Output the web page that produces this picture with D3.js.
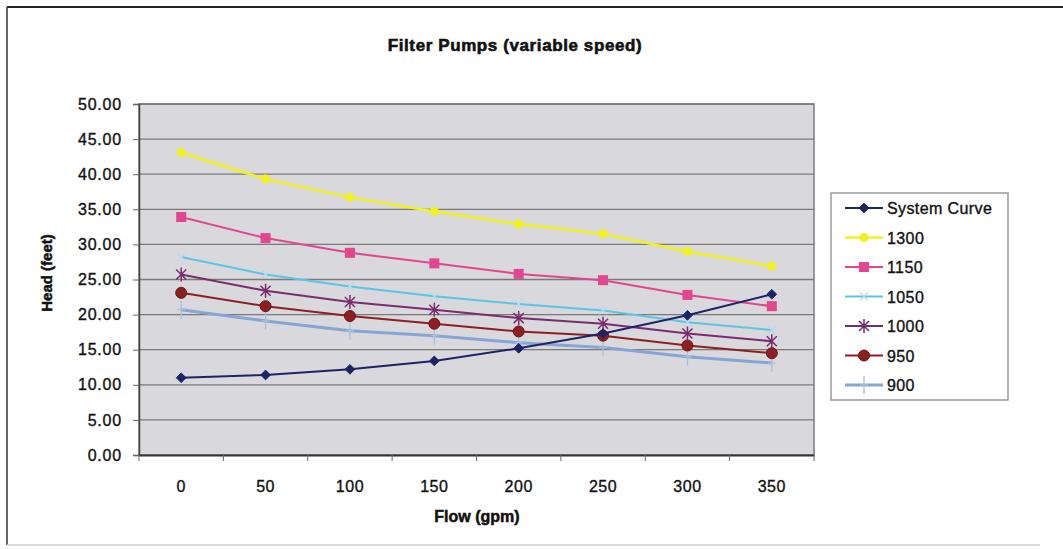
<!DOCTYPE html>
<html>
<head>
<meta charset="utf-8">
<script src="https://cdn.jsdelivr.net/npm/d3@7"></script>
<style>
  body { margin: 0; background: #fff; }
  text { font-family: "Liberation Sans", Arial, sans-serif; fill: #111; }
</style>
</head>
<body>
<div id="svg-area"></div>
<script>
var svgWidth = 1063;
var svgHeight = 549;

// chart data
var flows = [0, 50, 100, 150, 200, 250, 300, 350];
var yTicks = [0, 5, 10, 15, 20, 25, 30, 35, 40, 45, 50];
var seriesNames = ["System Curve", "1300", "1150", "1050", "1000", "950", "900"];
var systemCurve = [11.0, 11.4, 12.2, 13.4, 15.2, 17.3, 19.9, 22.9];
var rpm1300 = [43.1, 39.3, 36.7, 34.7, 32.9, 31.5, 29.0, 26.9];
var rpm1150 = [33.9, 30.9, 28.8, 27.3, 25.8, 24.9, 22.8, 21.2];
var rpm1050 = [28.2, 25.7, 24.0, 22.6, 21.5, 20.6, 18.9, 17.8];
var rpm1000 = [25.7, 23.4, 21.8, 20.7, 19.5, 18.7, 17.3, 16.2];
var rpm950 = [23.1, 21.2, 19.8, 18.7, 17.6, 17.0, 15.6, 14.5];
var rpm900 = [20.7, 19.1, 17.7, 17.0, 16.0, 15.3, 14.0, 13.1];

var seriesValues = [systemCurve, rpm1300, rpm1150, rpm1050, rpm1000, rpm950, rpm900];
var seriesColors = ["#1c2466", "#f2f21c", "#e2468e", "#5fc3e4", "#7a2c6c", "#8c1f22", "#86a4d4"];
var seriesMarkers = ["diamond", "dot", "square", "cross", "star", "circle", "plus"];
var seriesWidths = [2, 2.5, 2, 2, 2, 2, 3];

// plot area
var margin = { top: 104, left: 139, right: 1063 - 814, bottom: 549 - 455 };
var chartWidth = svgWidth - margin.left - margin.right;
var chartHeight = svgHeight - margin.top - margin.bottom;

var svg = d3.select("#svg-area").append("svg")
  .attr("width", svgWidth)
  .attr("height", svgHeight);

// outer chart frame (scan is cut on the right)
svg.append("line").attr("x1", 7).attr("y1", 7).attr("x2", svgWidth).attr("y2", 7)
  .attr("stroke", "#222").attr("stroke-width", 2);
svg.append("line").attr("x1", 7).attr("y1", 7).attr("x2", 7).attr("y2", 545)
  .attr("stroke", "#333").attr("stroke-width", 1.5);
svg.append("line").attr("x1", 7).attr("y1", 545).attr("x2", 1040).attr("y2", 545)
  .attr("stroke", "#cfcfcf").attr("stroke-width", 1.5);

var chartGroup = svg.append("g")
  .attr("transform", `translate(${margin.left}, ${margin.top})`);

var xScale = d3.scaleBand()
  .domain(flows)
  .range([0, chartWidth]);

var yScale = d3.scaleLinear()
  .domain([0, 50])
  .range([chartHeight, 0]);

// plot background
chartGroup.append("rect")
  .attr("width", chartWidth)
  .attr("height", chartHeight)
  .attr("fill", "#d8d8dd")
  .attr("stroke", "#7c7c7c")
  .attr("stroke-width", 1.5);

// gridlines
chartGroup.selectAll(".grid")
  .data(yTicks.slice(1))
  .enter()
  .append("line")
  .attr("class", "grid")
  .attr("x1", 0)
  .attr("x2", chartWidth)
  .attr("y1", function(d) { return yScale(d); })
  .attr("y2", function(d) { return yScale(d); })
  .attr("stroke", "#7a7a7a")
  .attr("stroke-width", 1.3);

// axes
var yAxis = d3.axisLeft(yScale)
  .tickValues(yTicks)
  .tickFormat(d3.format(".2f"))
  .tickSize(6)
  .tickPadding(11);

var yAxisG = chartGroup.append("g").call(yAxis);
yAxisG.select(".domain").attr("stroke", "#444").attr("stroke-width", 1.5);
yAxisG.selectAll(".tick line").attr("stroke", "#666");
yAxisG.selectAll("text")
  .style("font-size", "16px")
  .style("letter-spacing", "0.8px")
  .attr("fill", "#111")
  .attr("stroke", "#111")
  .attr("stroke-width", 0.35);

var xAxis = d3.axisBottom(xScale).tickSize(0).tickPadding(26);
var xAxisG = chartGroup.append("g")
  .attr("transform", `translate(0, ${chartHeight})`)
  .call(xAxis);
xAxisG.select(".domain").attr("stroke", "#333").attr("stroke-width", 2);
xAxisG.selectAll("text")
  .style("font-size", "16px")
  .style("letter-spacing", "0.5px")
  .attr("fill", "#111")
  .attr("stroke", "#111")
  .attr("stroke-width", 0.35);

// tick marks between categories
chartGroup.selectAll(".xtick")
  .data(d3.range(flows.length + 1))
  .enter()
  .append("line")
  .attr("class", "xtick")
  .attr("x1", function(i) { return i * xScale.bandwidth(); })
  .attr("x2", function(i) { return i * xScale.bandwidth(); })
  .attr("y1", chartHeight)
  .attr("y2", chartHeight + 6)
  .attr("stroke", "#666");

// markers
function drawMarker(g, type, color) {
  if (type == "diamond") {
    g.append("path").attr("d", d3.symbol(d3.symbolDiamond2, 60)())
      .attr("fill", color).attr("stroke", color);
  } else if (type == "dot") {
    g.append("circle").attr("r", 4.5).attr("fill", color);
  } else if (type == "square") {
    g.append("rect").attr("x", -5).attr("y", -5).attr("width", 10).attr("height", 10)
      .attr("fill", color);
  } else if (type == "circle") {
    g.append("circle").attr("r", 5.5).attr("fill", color).attr("stroke", "#6e1515");
  } else if (type == "cross") {
    g.append("path").attr("d", "M-4,-4L4,4M-4,4L4,-4")
      .attr("stroke", "#b8dcea").attr("stroke-width", 1.3);
  } else if (type == "star") {
    g.append("path").attr("d", "M-5,-5L5,5M-5,5L5,-5M0,-7L0,7")
      .attr("stroke", color).attr("stroke-width", 1.5);
  } else if (type == "plus") {
    g.append("path").attr("d", "M0,-9L0,9M-4,0L4,0")
      .attr("stroke", "#a9bedf").attr("stroke-width", 1.3);
  }
}

var line = d3.line()
  .x(function(d, i) { return xScale(flows[i]) + xScale.bandwidth() / 2; })
  .y(function(d) { return yScale(d); });

// draw series, last one first so System Curve sits on top
for (var s = seriesNames.length - 1; s >= 0; s--) {
  chartGroup.append("path")
    .datum(seriesValues[s])
    .attr("fill", "none")
    .attr("stroke", seriesColors[s])
    .attr("stroke-width", seriesWidths[s])
    .attr("d", line);

  chartGroup.selectAll(".mk" + s)
    .data(seriesValues[s])
    .enter()
    .append("g")
    .attr("class", "mk" + s)
    .attr("transform", function(d, i) {
      return `translate(${xScale(flows[i]) + xScale.bandwidth() / 2}, ${yScale(d)})`;
    })
    .each(function() { drawMarker(d3.select(this), seriesMarkers[s], seriesColors[s]); });
}

// titles
svg.append("text")
  .attr("x", 515)
  .attr("y", 51)
  .attr("text-anchor", "middle")
  .style("font-size", "17px")
  .style("font-weight", "bold")
  .style("letter-spacing", "0.6px")
  .attr("stroke", "#111")
  .attr("stroke-width", 0.6)
  .text("Filter Pumps (variable speed)");

svg.append("text")
  .attr("transform", "translate(52, 273) rotate(-90)")
  .attr("text-anchor", "middle")
  .style("font-size", "15px")
  .style("font-weight", "bold")
  .attr("stroke", "#111")
  .attr("stroke-width", 0.5)
  .text("Head (feet)");

svg.append("text")
  .attr("x", 477)
  .attr("y", 522)
  .attr("text-anchor", "middle")
  .style("font-size", "16px")
  .style("font-weight", "bold")
  .attr("stroke", "#111")
  .attr("stroke-width", 0.5)
  .text("Flow (gpm)");

// legend
var legend = svg.append("g").attr("transform", "translate(831, 193)");
legend.append("rect")
  .attr("width", 177)
  .attr("height", 207)
  .attr("fill", "#fff")
  .attr("stroke", "#9a9a9a")
  .attr("stroke-width", 1.5);

var legendRows = legend.selectAll(".lrow")
  .data(seriesNames)
  .enter()
  .append("g")
  .attr("class", "lrow")
  .attr("transform", function(d, i) { return `translate(0, ${15 + i * 29.5})`; });

legendRows.append("line")
  .attr("x1", 14).attr("x2", 52)
  .attr("stroke", function(d, i) { return seriesColors[i]; })
  .attr("stroke-width", function(d, i) { return seriesWidths[i]; });

legendRows.append("g")
  .attr("transform", "translate(33, 0)")
  .each(function(d, i) { drawMarker(d3.select(this), seriesMarkers[i], seriesColors[i]); });

legendRows.append("text")
  .attr("x", 56)
  .attr("y", 6)
  .style("font-size", "16px")
  .style("letter-spacing", "0.4px")
  .attr("stroke", "#111")
  .attr("stroke-width", 0.35)
  .text(function(d) { return d; });
</script>
</body>
</html>
